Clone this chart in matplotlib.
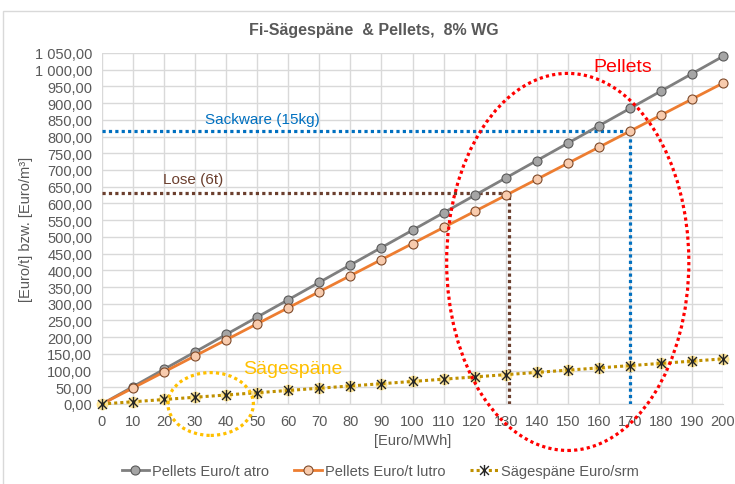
import matplotlib
matplotlib.use("Agg")
import matplotlib.pyplot as plt
from matplotlib.patches import Ellipse, Rectangle
from matplotlib.path import Path
from matplotlib.ticker import FuncFormatter, MultipleLocator

plt.rcParams['font.family'] = ['Liberation Sans', 'DejaVu Sans']

# Energy price in Euro/MWh
price = [0, 10, 20, 30, 40, 50, 60, 70, 80, 90, 100,
         110, 120, 130, 140, 150, 160, 170, 180, 190, 200]
# Pellets, Euro per tonne (absolutely dry)
pellets_atro = [0, 52, 104, 156, 208, 260, 312, 364, 416, 468, 520,
                572, 624, 676, 728, 780, 832, 884, 936, 988, 1040]
# Pellets, Euro per tonne (air dry)
pellets_lutro = [0, 48, 96, 144, 192, 240, 288, 336, 384, 432, 480,
                 528, 576, 624, 672, 720, 768, 816, 864, 912, 960]
# Sawdust, Euro per bulk cubic metre
saege_srm = [0, 6.75, 13.5, 20.25, 27.0, 33.75, 40.5, 47.25, 54.0, 60.75, 67.5,
             74.25, 81.0, 87.75, 94.5, 101.25, 108.0, 114.75, 121.5, 128.25, 135.0]

# Reference prices: loose delivery and bagged goods
lose_price, lose_mwh = 630, 131
sack_price, sack_mwh = 816, 170

labels = ["Pellets Euro/t atro", "Pellets Euro/t lutro", "Sägespäne Euro/srm"]

TXT = "#595959"
GRID = "#D9D9D9"

fig = plt.figure(figsize=(7.35, 4.85), dpi=100)
ax = fig.add_axes([102 / 735, 1 - 405 / 485, (723 - 102) / 735, (405 - 54) / 485])

# chart frame
fig.patches.append(Rectangle((3 / 735, -0.01), 1.0, 1 - 12 / 485 + 0.01,
                             transform=fig.transFigure, fill=False,
                             edgecolor=GRID, linewidth=1.0))

ax.set_xlim(0, 200)
ax.set_ylim(0, 1050)
ax.xaxis.set_major_locator(MultipleLocator(10))
ax.yaxis.set_major_locator(MultipleLocator(50))


def de_fmt(v, pos=None):
    s = f"{v:,.2f}"
    return s.replace(",", " ").replace(".", ",")


ax.yaxis.set_major_formatter(FuncFormatter(de_fmt))
ax.grid(True, color=GRID, linewidth=1.0)
ax.set_axisbelow(True)
for side in ("top", "right", "left"):
    ax.spines[side].set_visible(False)
ax.spines["bottom"].set_color(GRID)
ax.tick_params(length=0, labelsize=10.5, labelcolor=TXT, pad=7)

dot = (0, (1, 1))

# helper lines for the reference prices
ax.plot([0, lose_mwh], [lose_price, lose_price], color="#6B3F2E", lw=2.3, ls=dot, zorder=2)
ax.plot([lose_mwh, lose_mwh], [0, lose_price], color="#6B3F2E", lw=2.3, ls=dot, zorder=2)
ax.plot([0, sack_mwh], [sack_price, sack_price], color="#0070C0", lw=2.3, ls=dot, zorder=2)
ax.plot([sack_mwh, sack_mwh], [0, sack_price], color="#0070C0", lw=2.3, ls=dot, zorder=2)

h1, = ax.plot(price, pellets_atro, color="#7F7F7F", lw=2, marker="o", ms=6.5,
              mfc="#A5A5A5", mec="#595959", mew=0.8, zorder=4, clip_on=False)
h2, = ax.plot(price, pellets_lutro, color="#ED7D31", lw=2, marker="o", ms=6.5,
              mfc="#F8CBAD", mec="#7F4A2A", mew=0.8, zorder=4, clip_on=False)

star = Path([(0, -1), (0, 1), (-0.8, -0.8), (0.8, 0.8), (-0.8, 0.8), (0.8, -0.8)],
            [Path.MOVETO, Path.LINETO, Path.MOVETO, Path.LINETO, Path.MOVETO, Path.LINETO])
ax.plot(price, saege_srm, ls="none", marker="o", ms=8.5, mfc="#FFE699", mec="none",
        zorder=4, clip_on=False)
h3, = ax.plot(price, saege_srm, color="#BF9000", lw=2.2, ls=dot, marker=star, ms=8,
              mec="#262626", mew=1.0, zorder=5, clip_on=False)

# highlight ellipses
ax.add_patch(Ellipse((150, 425), 78, 1128, fill=False, edgecolor="#FF0000",
                     lw=2.3, ls=dot, clip_on=False, zorder=6))
ax.add_patch(Ellipse((35, 0), 27.5, 188, fill=False, edgecolor="#FFC000",
                     lw=2.3, ls=dot, clip_on=False, zorder=6))

ax.text(167.8, 1011, "Pellets", color="#FF0000", fontsize=14, ha="center", va="center")
ax.text(61.5, 105, "Sägespäne", color="#FFC000", fontsize=14, ha="center", va="center")
ax.text(51.5, 852, "Sackware (15kg)", color="#0070C0", fontsize=11, ha="center", va="center")
ax.text(29.3, 673, "Lose (6t)", color="#6B3F2E", fontsize=11, ha="center", va="center")

ax.set_xlabel("[Euro/MWh]", fontsize=10.5, color=TXT, labelpad=4)
ax.set_ylabel("[Euro/t] bzw. [Euro/m³]", fontsize=10.5, color=TXT)
ax.yaxis.set_label_coords(-69 / 621, 0.5)

fig.text(374 / 735, 1 - 30 / 485, "Fi-Sägespäne  & Pellets,  8% WG", ha="center",
         va="center", fontsize=11.5, fontweight="bold", color=TXT)

fig.legend([h1, h2, h3], labels, loc="center", ncol=3,
           bbox_to_anchor=(380 / 735, 1 - 472 / 485), frameon=False,
           fontsize=10.5, labelcolor=TXT, handlelength=1.9, columnspacing=1.7,
           handletextpad=0.2)

fig.savefig("out.png", dpi=100)
